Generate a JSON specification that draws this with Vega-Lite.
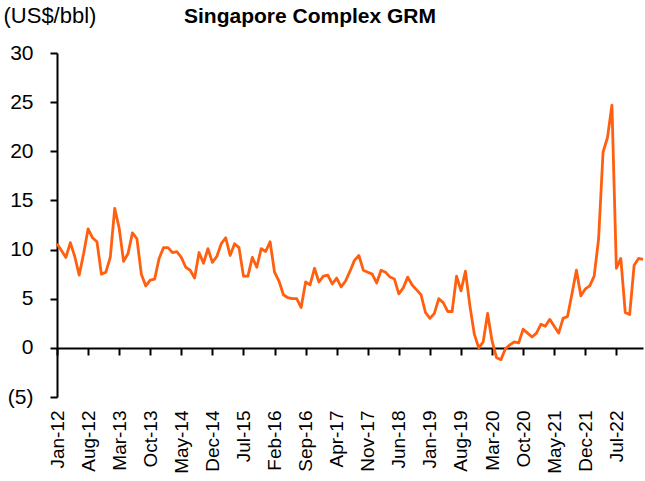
{
  "$schema": "https://vega.github.io/schema/vega-lite/v6.json",
  "width": 586,
  "height": 344,
  "autosize": {"type": "none"},
  "padding": {"left": 57, "top": 53, "right": 2, "bottom": 84},
  "background": "white",
  "config": {"view": {"stroke": null}},
  "title": {"text": "Singapore Complex GRM", "font": "Liberation Sans", "fontSize": 21, "fontWeight": "bold", "anchor": "middle", "dx": -40, "offset": 0, "dy": 40, "baseline": "alphabetic", "color": "black"},
  "data": {"values": [
    {"month":"Jan-12","grm":10.6},{"month":"Feb-12","grm":9.9},{"month":"Mar-12","grm":9.2},{"month":"Apr-12","grm":10.7},{"month":"May-12","grm":9.3},{"month":"Jun-12","grm":7.4},{"month":"Jul-12","grm":9.6},{"month":"Aug-12","grm":12.1},{"month":"Sep-12","grm":11.2},{"month":"Oct-12","grm":10.8},{"month":"Nov-12","grm":7.5},{"month":"Dec-12","grm":7.7},
    {"month":"Jan-13","grm":9.2},{"month":"Feb-13","grm":14.2},{"month":"Mar-13","grm":12.2},{"month":"Apr-13","grm":8.8},{"month":"May-13","grm":9.6},{"month":"Jun-13","grm":11.7},{"month":"Jul-13","grm":11.1},{"month":"Aug-13","grm":7.5},{"month":"Sep-13","grm":6.3},{"month":"Oct-13","grm":6.9},{"month":"Nov-13","grm":7.0},{"month":"Dec-13","grm":9.1},
    {"month":"Jan-14","grm":10.2},{"month":"Feb-14","grm":10.2},{"month":"Mar-14","grm":9.7},{"month":"Apr-14","grm":9.8},{"month":"May-14","grm":9.2},{"month":"Jun-14","grm":8.2},{"month":"Jul-14","grm":7.9},{"month":"Aug-14","grm":7.1},{"month":"Sep-14","grm":9.7},{"month":"Oct-14","grm":8.6},{"month":"Nov-14","grm":10.1},{"month":"Dec-14","grm":8.7},
    {"month":"Jan-15","grm":9.3},{"month":"Feb-15","grm":10.6},{"month":"Mar-15","grm":11.2},{"month":"Apr-15","grm":9.4},{"month":"May-15","grm":10.6},{"month":"Jun-15","grm":10.2},{"month":"Jul-15","grm":7.3},{"month":"Aug-15","grm":7.3},{"month":"Sep-15","grm":9.2},{"month":"Oct-15","grm":8.2},{"month":"Nov-15","grm":10.1},{"month":"Dec-15","grm":9.8},
    {"month":"Jan-16","grm":10.8},{"month":"Feb-16","grm":7.7},{"month":"Mar-16","grm":6.8},{"month":"Apr-16","grm":5.4},{"month":"May-16","grm":5.1},{"month":"Jun-16","grm":5.0},{"month":"Jul-16","grm":5.0},{"month":"Aug-16","grm":4.1},{"month":"Sep-16","grm":6.7},{"month":"Oct-16","grm":6.4},{"month":"Nov-16","grm":8.1},{"month":"Dec-16","grm":6.7},
    {"month":"Jan-17","grm":7.3},{"month":"Feb-17","grm":7.4},{"month":"Mar-17","grm":6.5},{"month":"Apr-17","grm":7.1},{"month":"May-17","grm":6.2},{"month":"Jun-17","grm":6.8},{"month":"Jul-17","grm":7.8},{"month":"Aug-17","grm":8.9},{"month":"Sep-17","grm":9.4},{"month":"Oct-17","grm":7.9},{"month":"Nov-17","grm":7.7},{"month":"Dec-17","grm":7.5},
    {"month":"Jan-18","grm":6.6},{"month":"Feb-18","grm":7.9},{"month":"Mar-18","grm":7.7},{"month":"Apr-18","grm":7.2},{"month":"May-18","grm":7.0},{"month":"Jun-18","grm":5.5},{"month":"Jul-18","grm":6.1},{"month":"Aug-18","grm":7.2},{"month":"Sep-18","grm":6.4},{"month":"Oct-18","grm":5.9},{"month":"Nov-18","grm":5.4},{"month":"Dec-18","grm":3.6},
    {"month":"Jan-19","grm":3.0},{"month":"Feb-19","grm":3.5},{"month":"Mar-19","grm":5.0},{"month":"Apr-19","grm":4.6},{"month":"May-19","grm":3.7},{"month":"Jun-19","grm":3.7},{"month":"Jul-19","grm":7.3},{"month":"Aug-19","grm":5.8},{"month":"Sep-19","grm":7.8},{"month":"Oct-19","grm":4.3},{"month":"Nov-19","grm":1.4},{"month":"Dec-19","grm":0.0},
    {"month":"Jan-20","grm":0.6},{"month":"Feb-20","grm":3.5},{"month":"Mar-20","grm":0.7},{"month":"Apr-20","grm":-1.0},{"month":"May-20","grm":-1.2},{"month":"Jun-20","grm":-0.1},{"month":"Jul-20","grm":0.3},{"month":"Aug-20","grm":0.6},{"month":"Sep-20","grm":0.5},{"month":"Oct-20","grm":1.9},{"month":"Nov-20","grm":1.5},{"month":"Dec-20","grm":1.1},
    {"month":"Jan-21","grm":1.5},{"month":"Feb-21","grm":2.4},{"month":"Mar-21","grm":2.2},{"month":"Apr-21","grm":2.9},{"month":"May-21","grm":2.2},{"month":"Jun-21","grm":1.5},{"month":"Jul-21","grm":3.0},{"month":"Aug-21","grm":3.2},{"month":"Sep-21","grm":5.5},{"month":"Oct-21","grm":7.9},{"month":"Nov-21","grm":5.3},{"month":"Dec-21","grm":6.0},
    {"month":"Jan-22","grm":6.3},{"month":"Feb-22","grm":7.3},{"month":"Mar-22","grm":11.1},{"month":"Apr-22","grm":19.9},{"month":"May-22","grm":21.4},{"month":"Jun-22","grm":24.7},{"month":"Jul-22","grm":8.1},{"month":"Aug-22","grm":9.1},{"month":"Sep-22","grm":3.6},{"month":"Oct-22","grm":3.4},{"month":"Nov-22","grm":8.4},{"month":"Dec-22","grm":9.1},
    {"month":"Jan-23","grm":9.0}
  ]},
  "mark": {"type": "line", "color": "#FF5F0F", "strokeWidth": 2.8, "strokeJoin": "round"},
  "encoding": {
    "x": {
      "field": "month", "type": "ordinal", "sort": null,
      "scale": {"type": "point", "padding": 0},
      "axis": {
        "values": ["Jan-12","Aug-12","Mar-13","Oct-13","May-14","Dec-14","Jul-15","Feb-16","Sep-16","Apr-17","Nov-17","Jun-18","Jan-19","Aug-19","Mar-20","Oct-20","May-21","Dec-21","Jul-22"],
        "title": null, "labelAngle": -90, "offset": -49, "labelPadding": 55,
        "domainColor": "black", "domainWidth": 2, "tickColor": "black", "tickWidth": 2, "tickSize": 7,
        "labelFont": "Liberation Sans", "labelFontSize": 19, "labelColor": "black", "grid": false, "labelOverlap": false
      }
    },
    "y": {
      "field": "grm", "type": "quantitative",
      "scale": {"domain": [-5, 30], "nice": false, "zero": false},
      "axis": {
        "values": [-5, 0, 5, 10, 15, 20, 25, 30],
        "labelExpr": "datum.value < 0 ? '(' + abs(datum.value) + ')' : datum.value",
        "grid": false, "domainColor": "black", "domainWidth": 2, "tickColor": "black", "tickWidth": 2, "tickSize": 7,
        "labelFont": "Liberation Sans", "labelFontSize": 21, "labelColor": "black", "labelPadding": 17,
        "title": "(US$/bbl)", "titleAngle": 0, "titleX": -54, "titleY": -31, "titleAlign": "left", "titleBaseline": "alphabetic",
        "titleFont": "Liberation Sans", "titleFontSize": 22, "titleFontWeight": "normal", "titleColor": "black"
      }
    }
  }
}
